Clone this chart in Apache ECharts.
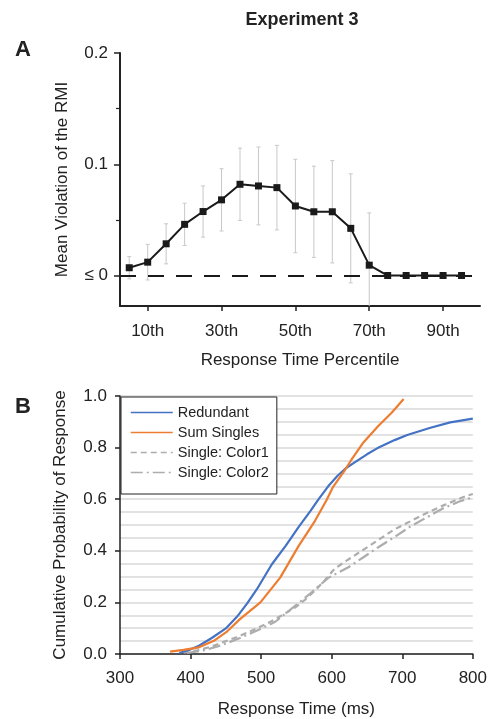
<!DOCTYPE html>
<html>
<head>
<meta charset="utf-8">
<script src="https://cdn.jsdelivr.net/npm/echarts@6/dist/echarts.min.js"></script>
<style>
html,body{margin:0;padding:0;background:#fff;}
#chart{width:490px;height:719px;}
</style>
</head>
<body>
<div id="chart"></div>
<script>
// ---- Panel A data ----
var percentiles = [5,10,15,20,25,30,35,40,45,50,55,60,65,70,75,80,85,90,95];
var meanViolation = [0.007,0.012,0.0285,0.046,0.0575,0.068,0.082,0.0805,0.079,0.0625,0.0573,0.0573,0.0424,0.0093,0,0,0,0,0];
var errorHalf = [0.010,0.016,0.018,0.019,0.023,0.028,0.0325,0.035,0.038,0.042,0.041,0.046,0.049,0.047,0,0,0,0,0];
var pctTicks = [10,30,50,70,90];
var violTicks = [0,0.1,0.2];
var violMinorTicks = [0.05,0.15];

// ---- Panel B data ----
var redundantMs = [384,400,412,430,450,466,480,494,515,535,553,570,581,595,608,620,632,650,665,690,707,740,768,800];
var redundantP  = [0.004,0.018,0.032,0.062,0.099,0.145,0.195,0.251,0.347,0.42,0.492,0.555,0.598,0.65,0.69,0.72,0.742,0.774,0.798,0.83,0.849,0.877,0.898,0.912];
var sumMs = [371,390,412,433,452,470,499,527,553,575,593,602,618,628,645,665,685,702];
var sumP  = [0.009,0.016,0.026,0.051,0.088,0.135,0.2,0.296,0.418,0.51,0.598,0.648,0.71,0.753,0.82,0.881,0.935,0.988];
var color1Ms = [390,410,431,450,464,478,492,506,520,534,548,562,576,590,604,620,642,665,689,712,735,760,792,800];
var color1P  = [0.005,0.014,0.03,0.05,0.064,0.08,0.097,0.115,0.135,0.157,0.18,0.21,0.245,0.285,0.33,0.36,0.399,0.44,0.483,0.515,0.547,0.578,0.614,0.62];
var color2Ms = [395,420,445,470,495,520,545,570,595,623,645,665,690,712,735,759,780,800];
var color2P  = [0.004,0.015,0.035,0.062,0.092,0.125,0.18,0.235,0.295,0.335,0.375,0.412,0.455,0.495,0.53,0.566,0.59,0.608];
var seriesNames = ['Redundant','Sum Singles','Single: Color1','Single: Color2'];

function zip(a,b){ return a.map(function(v,i){ return [v,b[i]]; }); }

var FONT = '"Liberation Sans", Arial, Helvetica, sans-serif';
var chart = echarts.init(document.getElementById('chart'), null, {renderer:'canvas'});

var errData = percentiles.map(function(p,i){ return [p, meanViolation[i]-errorHalf[i], meanViolation[i]+errorHalf[i]]; })
  .filter(function(d){ return d[2] > d[1]; });

var option = {
  backgroundColor: '#fff',
  animation: false,
  textStyle: {fontFamily: FONT},
  title: [
    {text: 'Experiment 3', left: 297, top: 6, textAlign: 'center',
     textStyle: {fontFamily: FONT, fontSize: 18, fontWeight: 'bold', color: '#222'}},
    {text: 'A', left: 10, top: 34, textStyle: {fontFamily: FONT, fontSize: 22, fontWeight: 'bold', color: '#222'}},
    {text: 'B', left: 10, top: 391, textStyle: {fontFamily: FONT, fontSize: 22, fontWeight: 'bold', color: '#222'}}
  ],
  legend: {
    orient: 'vertical', left: 121, top: 397,
    data: seriesNames,
    backgroundColor: '#fff', borderColor: '#222', borderWidth: 1,
    padding: [8, 8, 14, 9],
    itemWidth: 42, itemHeight: 14, itemGap: 5,
    lineStyle: {width: 1.5},
    itemStyle: {opacity: 0},
    textStyle: {fontFamily: FONT, fontSize: 14.5, color: '#222'}
  },
  grid: [
    {left: 120, top: 53, width: 360, height: 253},
    {left: 120, top: 396, width: 356, height: 259}
  ],
  xAxis: [
    {gridIndex: 0, type: 'value', min: 2.5, max: 100,
     name: 'Response Time Percentile', nameLocation: 'middle', nameGap: 46,
     nameTextStyle: {fontFamily: FONT, fontSize: 17, color: '#222'},
     axisLine: {show: true, onZero: false, lineStyle: {color: '#222', width: 2}},
     axisTick: {show: true, length: 5, customValues: pctTicks, lineStyle: {color: '#222', width: 1.5}},
     axisLabel: {customValues: pctTicks, margin: 17, fontSize: 17, color: '#222', fontFamily: FONT,
                 formatter: function(v){ return v + 'th'; }},
     splitLine: {show: false}},
    {gridIndex: 1, type: 'value', min: 300, max: 800, interval: 100,
     name: 'Response Time (ms)', nameLocation: 'middle', nameGap: 47,
     nameTextStyle: {fontFamily: FONT, fontSize: 17, color: '#222'},
     axisLine: {show: true, onZero: false, lineStyle: {color: '#222', width: 1.5}},
     axisTick: {show: true, length: 5, lineStyle: {color: '#222', width: 1.5}},
     axisLabel: {margin: 16, fontSize: 17, color: '#222', fontFamily: FONT},
     splitLine: {show: false}}
  ],
  yAxis: [
    {gridIndex: 0, type: 'value', position: 'left', min: -0.0274, max: 0.2,
     name: 'Mean Violation of the RMI', nameLocation: 'middle', nameGap: 49,
     nameTextStyle: {fontFamily: FONT, fontSize: 17, color: '#222'},
     axisLine: {show: true, onZero: false, lineStyle: {color: '#222', width: 2}},
     axisTick: {show: true, length: 6, customValues: violTicks, lineStyle: {color: '#222', width: 1.5}},
     axisLabel: {customValues: violTicks, margin: 12, fontSize: 17, color: '#222', fontFamily: FONT,
                 formatter: function(v){ return Math.abs(v) < 1e-9 ? '\u2264 0' : v.toFixed(1); }},
     splitLine: {show: false}},
    {gridIndex: 0, type: 'value', position: 'left', offset: 0, min: -0.0274, max: 0.2,
     axisLine: {show: false},
     axisTick: {show: true, length: 4, customValues: violMinorTicks, lineStyle: {color: '#222', width: 1.2}},
     axisLabel: {show: false},
     splitLine: {show: false}},
    {gridIndex: 1, type: 'value', min: 0, max: 1, interval: 0.2,
     name: 'Cumulative Probability of Response', nameLocation: 'middle', nameGap: 51,
     nameTextStyle: {fontFamily: FONT, fontSize: 17, color: '#222'},
     axisLine: {show: true, onZero: false, lineStyle: {color: '#222', width: 1.5}},
     axisTick: {show: true, length: 5, lineStyle: {color: '#222', width: 1.5}},
     axisLabel: {margin: 13, fontSize: 17, color: '#222', fontFamily: FONT,
                 formatter: function(v){ return v.toFixed(1); }},
     splitLine: {show: true, lineStyle: {color: '#d9d9d9', width: 1.5}},
     minorTick: {show: false, splitNumber: 4},
     minorSplitLine: {show: true, lineStyle: {color: '#d9d9d9', width: 1.5}}}
  ],
  series: [
    {
      type: 'custom', name: 'err', xAxisIndex: 0, yAxisIndex: 0, clip: true, z: 1,
      data: errData,
      renderItem: function(params, api){
        var x = api.value(0);
        var lo = api.coord([x, api.value(1)]);
        var hi = api.coord([x, api.value(2)]);
        var cap = 2;
        var st = {stroke: '#c8c8c8', lineWidth: 1};
        return {type: 'group', children: [
          {type: 'line', shape: {x1: lo[0], y1: lo[1], x2: hi[0], y2: hi[1]}, style: st},
          {type: 'line', shape: {x1: hi[0]-cap, y1: hi[1], x2: hi[0]+cap, y2: hi[1]}, style: st},
          {type: 'line', shape: {x1: lo[0]-cap, y1: lo[1], x2: lo[0]+cap, y2: lo[1]}, style: st}
        ]};
      }
    },
    {
      type: 'line', name: 'violation', xAxisIndex: 0, yAxisIndex: 0, z: 3,
      data: zip(percentiles, meanViolation),
      symbol: 'rect', symbolSize: 7, showSymbol: true,
      itemStyle: {color: '#1a1a1a'},
      lineStyle: {color: '#1a1a1a', width: 2},
      markLine: {
        silent: true, symbol: 'none', z: 2,
        label: {show: false},
        lineStyle: {color: '#1a1a1a', width: 2, type: [16, 12]},
        data: [{yAxis: 0}]
      }
    },
    {type: 'line', name: seriesNames[0], xAxisIndex: 1, yAxisIndex: 2, data: zip(redundantMs, redundantP),
     symbol: 'none', showSymbol: false, lineStyle: {color: '#4472c4', width: 2.2}, itemStyle: {color: '#4472c4'}, z: 4},
    {type: 'line', name: seriesNames[1], xAxisIndex: 1, yAxisIndex: 2, data: zip(sumMs, sumP),
     symbol: 'none', showSymbol: false, lineStyle: {color: '#ed7d31', width: 2.2}, itemStyle: {color: '#ed7d31'}, z: 4},
    {type: 'line', name: seriesNames[2], xAxisIndex: 1, yAxisIndex: 2, data: zip(color1Ms, color1P),
     symbol: 'none', showSymbol: false, lineStyle: {color: '#adadad', width: 2.2, type: [6, 4]}, itemStyle: {color: '#adadad'}, z: 3},
    {type: 'line', name: seriesNames[3], xAxisIndex: 1, yAxisIndex: 2, data: zip(color2Ms, color2P),
     symbol: 'none', showSymbol: false, lineStyle: {color: '#adadad', width: 2.2, type: [12, 4, 2, 4]}, itemStyle: {color: '#adadad'}, z: 3}
  ]
};
chart.setOption(option);
</script>
</body>
</html>
